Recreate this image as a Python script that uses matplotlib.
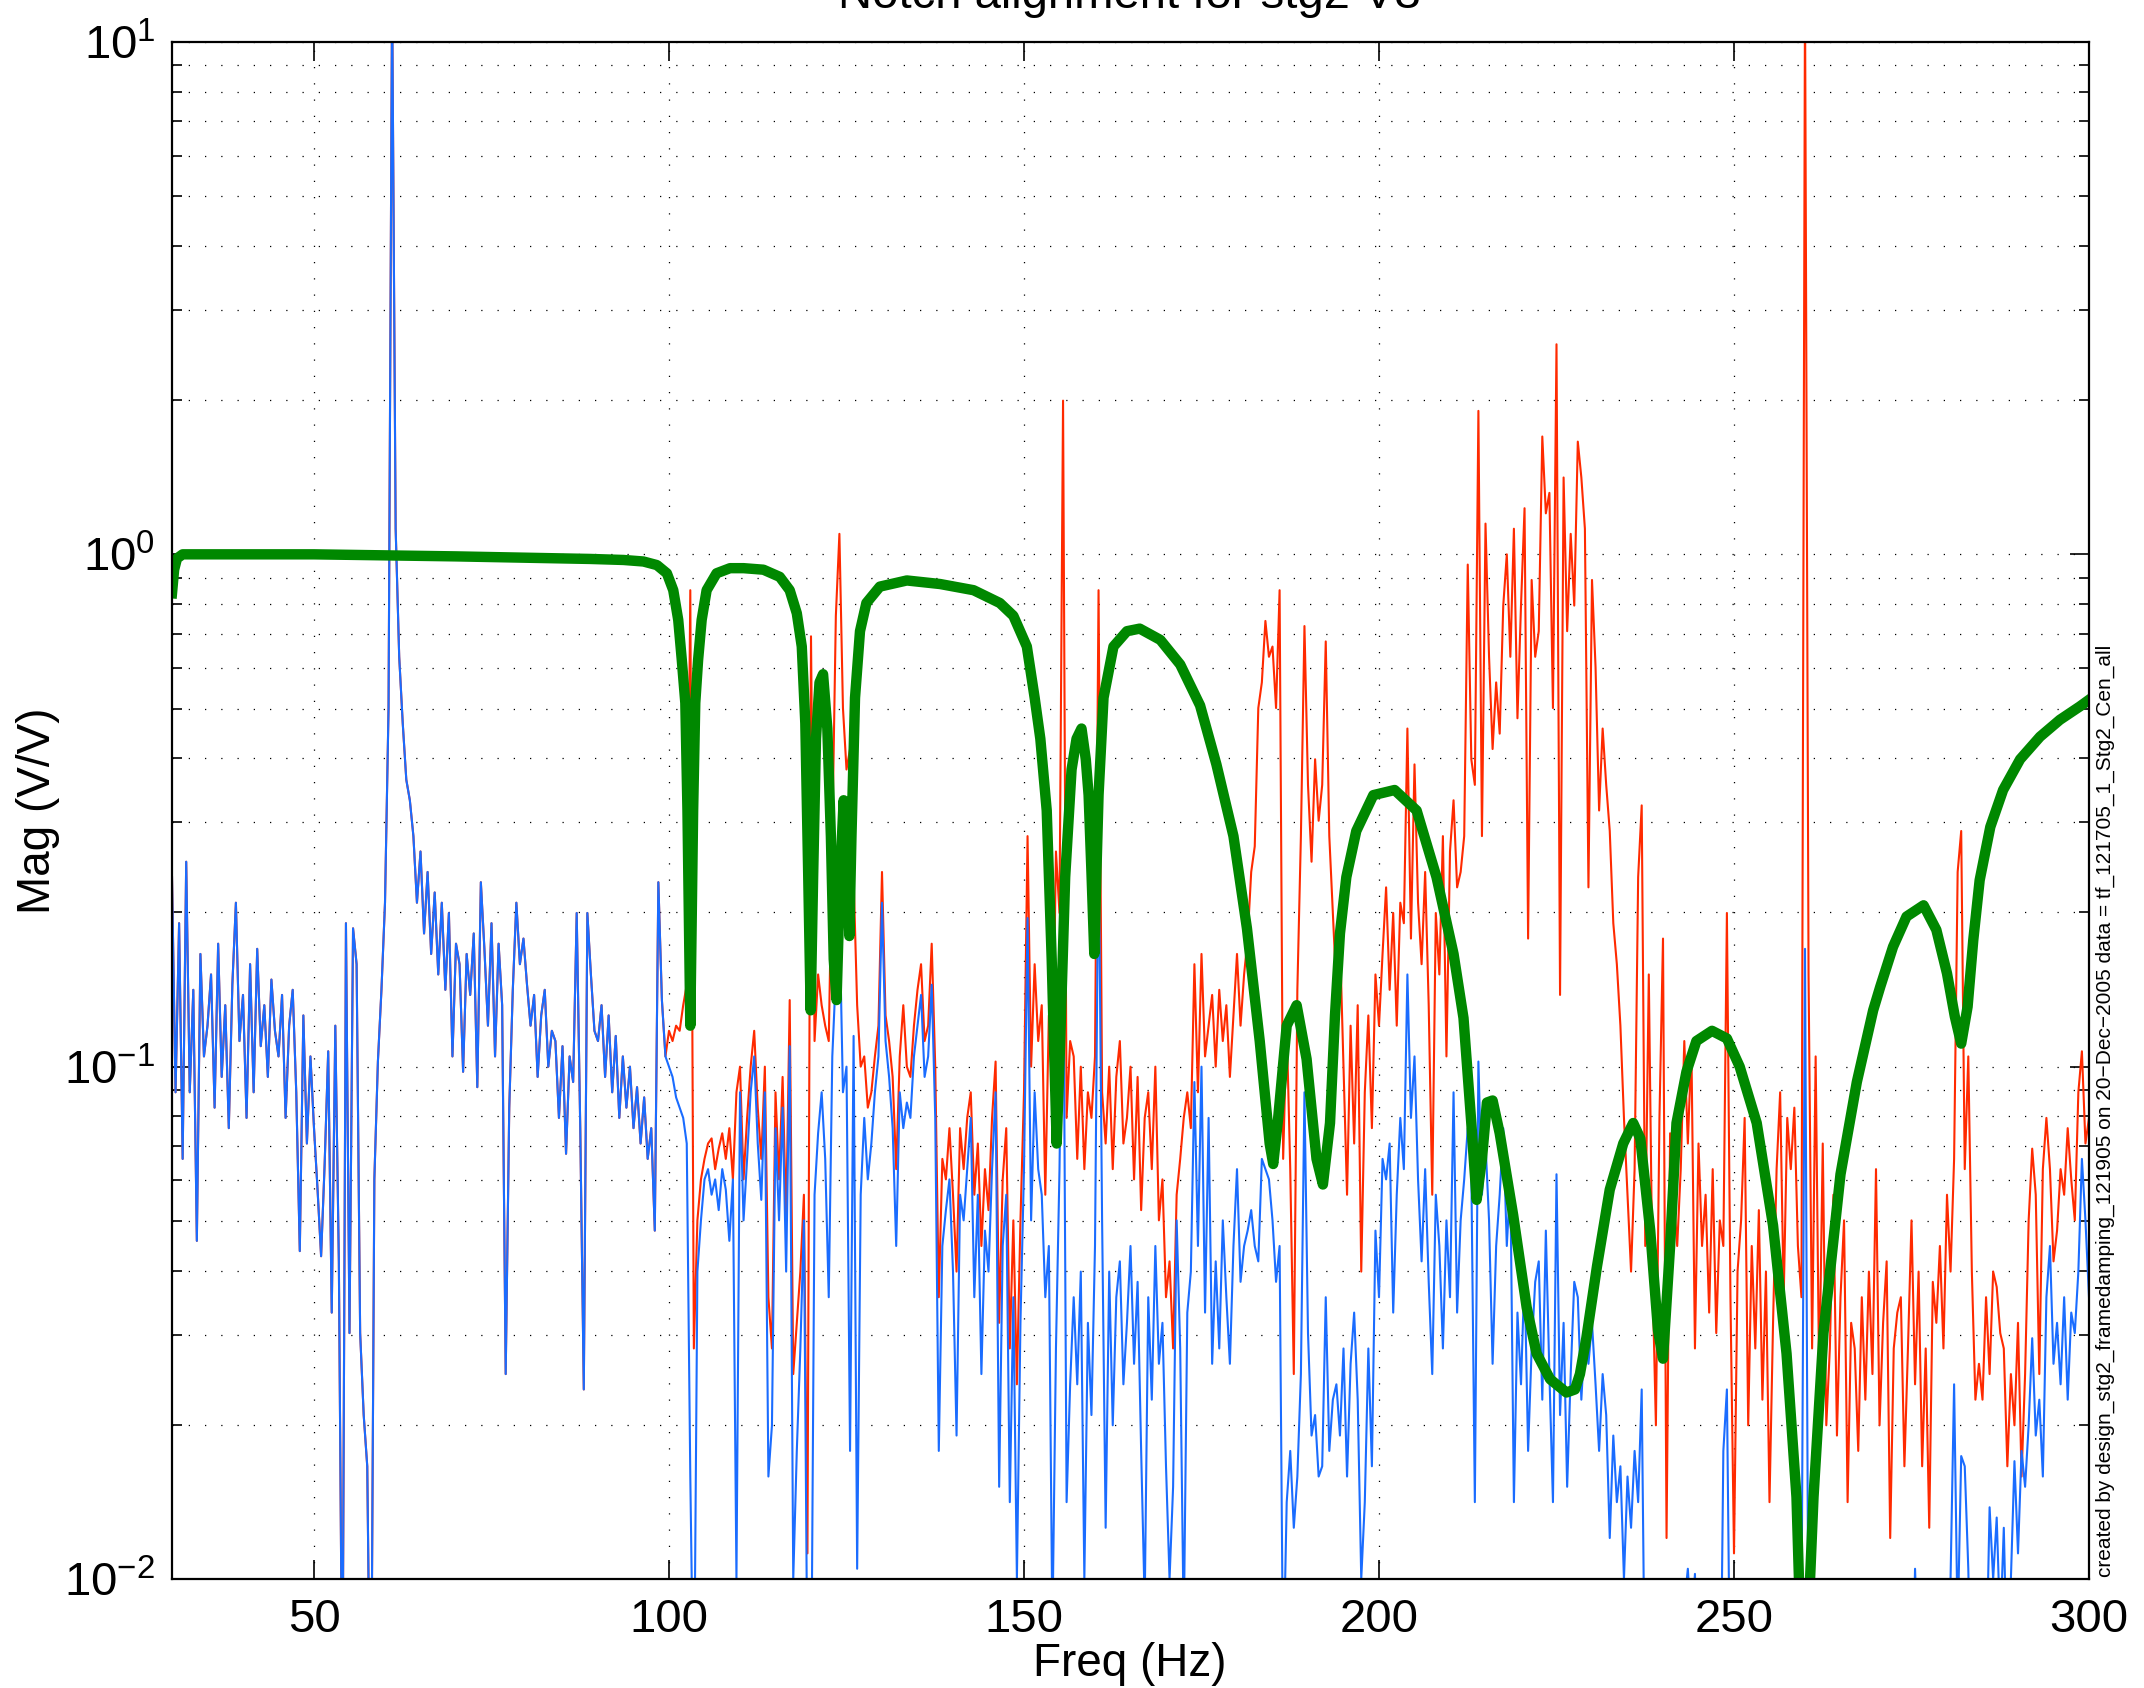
import numpy as np
import matplotlib
matplotlib.use('Agg')
import matplotlib.pyplot as plt
from matplotlib.ticker import NullLocator

plt.rcParams['font.family'] = ['Liberation Sans', 'DejaVu Sans']
plt.rcParams['mathtext.fontset'] = 'custom'
plt.rcParams['mathtext.rm'] = 'Liberation Sans'
plt.rcParams['mathtext.it'] = 'Liberation Sans:italic'
plt.rcParams['mathtext.bf'] = 'Liberation Sans:bold'

# measured traces, sampled every 0.5 Hz from 30 Hz, values are log10(mag)
freq_start = 30.0
freq_step = 0.5

blue_log = [
    -0.63, -1.05, -0.72, -1.18, -0.60, -1.05, -0.85, -1.34, -0.78, -0.98, -0.92, -0.82, -1.08, -0.76, -1.02, -0.88, -1.12, -0.84, -0.68, -0.95,  # 30
    -0.86, -1.10, -0.80, -1.05, -0.77, -0.96, -0.88, -1.02, -0.83, -0.93, -0.98, -0.86, -1.10, -0.92, -0.85, -1.05, -1.36, -0.90, -1.15, -0.98,  # 40
    -1.12, -1.24, -1.37, -1.19, -0.97, -1.48, -0.92, -1.38, -2.30, -0.72, -1.52, -0.73, -0.80, -1.52, -1.68, -1.78, -2.40, -1.22, -0.99, -0.85,  # 50
    -0.68, -0.30, 1.10, 0.05, -0.20, -0.33, -0.44, -0.48, -0.55, -0.68, -0.58, -0.74, -0.62, -0.78, -0.66, -0.82, -0.68, -0.85, -0.70, -0.98,  # 60
    -0.76, -0.80, -1.01, -0.78, -0.86, -0.74, -1.04, -0.64, -0.77, -0.92, -0.72, -0.98, -0.76, -0.88, -1.60, -1.08, -0.85, -0.68, -0.80, -0.75,  # 70
    -0.84, -0.92, -0.86, -1.02, -0.90, -0.85, -1.00, -0.93, -0.95, -1.10, -0.96, -1.17, -0.98, -1.03, -0.70, -1.12, -1.63, -0.70, -0.82, -0.93,  # 80
    -0.95, -0.88, -1.02, -0.90, -1.05, -0.94, -1.10, -0.98, -1.08, -1.00, -1.12, -1.04, -1.15, -1.06, -1.18, -1.12, -1.32, -0.64, -0.87, -0.98,  # 90
    -1.00, -1.02, -1.06, -1.08, -1.10, -1.15, -1.80, -2.30, -1.40, -1.30, -1.22, -1.20, -1.25, -1.22, -1.28, -1.20, -1.24, -1.34, -1.22, -2.00,  # 100
    -1.05, -1.30, -1.18, -1.05, -0.98, -1.15, -1.26, -1.05, -1.80, -1.70, -1.12, -1.30, -1.08, -1.40, -0.96, -2.00, -1.75, -1.55, -1.30, -2.20,  # 110
    -2.30, -1.25, -1.13, -1.05, -1.18, -1.45, -0.98, -0.82, -0.70, -1.05, -1.00, -1.75, -0.94, -1.98, -1.25, -1.10, -1.22, -1.15, -1.05, -0.98,  # 120
    -0.68, -0.95, -1.02, -1.12, -1.35, -1.05, -1.12, -1.07, -1.10, -0.98, -0.92, -0.86, -1.02, -0.98, -0.84, -1.10, -1.75, -1.35, -1.28, -1.22,  # 130
    -1.40, -1.72, -1.25, -1.30, -1.20, -1.10, -1.45, -1.25, -1.60, -1.32, -1.40, -1.20, -1.05, -1.82, -1.35, -1.25, -1.85, -1.45, -2.00, -1.50,  # 140
    -1.20, -0.71, -1.30, -1.05, -1.20, -1.25, -1.45, -1.35, -2.10, -1.55, -1.20, -0.66, -1.85, -1.62, -1.45, -1.62, -1.40, -2.00, -1.50, -1.68,  # 150
    -1.35, -0.54, -1.30, -1.90, -1.40, -1.70, -1.45, -1.38, -1.62, -1.50, -1.35, -1.58, -1.42, -1.75, -2.05, -1.45, -1.65, -1.35, -1.58, -1.50,  # 160
    -1.78, -2.00, -1.82, -1.30, -1.55, -2.10, -1.48, -1.40, -1.03, -1.35, -1.00, -1.48, -1.10, -1.58, -1.38, -1.55, -1.30, -1.45, -1.58, -1.35,  # 170
    -1.20, -1.42, -1.35, -1.32, -1.28, -1.35, -1.38, -1.18, -1.20, -1.22, -1.30, -1.42, -1.35, -2.20, -1.85, -1.75, -1.90, -1.80, -1.60, -1.05,  # 180
    -1.52, -1.72, -1.68, -1.80, -1.78, -1.45, -1.75, -1.65, -1.62, -1.72, -1.55, -1.80, -1.58, -1.48, -1.65, -2.00, -1.85, -1.55, -1.78, -1.32,  # 190
    -1.45, -1.18, -1.22, -1.15, -1.48, -1.25, -1.10, -1.20, -0.82, -1.10, -0.98, -1.22, -1.38, -1.20, -1.42, -1.60, -1.25, -1.35, -1.55, -1.30,  # 200
    -1.45, -1.05, -1.48, -1.30, -1.22, -1.12, -1.20, -1.85, -0.99, -1.25, -1.15, -1.30, -1.58, -1.35, -1.25, -1.12, -1.35, -1.22, -1.85, -1.48,  # 210
    -1.62, -1.40, -1.75, -1.55, -1.42, -1.38, -1.65, -1.32, -1.60, -1.85, -1.21, -1.68, -1.50, -1.82, -1.60, -1.42, -1.45, -1.65, -1.52, -1.58,  # 220
    -1.50, -1.62, -1.75, -1.60, -1.68, -1.92, -1.72, -1.85, -1.78, -2.00, -1.80, -1.90, -1.75, -1.85, -1.63, -2.30, -2.10, -2.40, -2.20, -2.50,  # 230
    -2.30, -2.20, -2.40, -2.30, -2.50, -2.20, -2.05, -1.98, -2.10, -1.99, -2.30, -2.40, -2.20, -2.50, -2.30, -2.20, -2.40, -1.75, -1.63, -2.30,  # 240
    -2.20, -2.40, -2.00, -2.30, -2.50, -2.30, -2.20, -2.40, -2.30, -2.50, -2.20, -2.30, -2.40, -2.20, -2.50, -2.30, -2.20, -2.40, -2.30, -2.10,  # 250
    -0.77, -2.20, -2.40, -2.30, -2.50, -2.20, -2.30, -2.40, -2.20, -2.50, -2.30, -2.20, -2.40, -2.30, -2.50, -2.20, -2.30, -2.40, -2.20, -2.30,  # 260
    -2.50, -2.30, -2.20, -2.40, -2.30, -2.50, -2.20, -2.30, -2.40, -2.20, -2.30, -1.98, -2.20, -2.40, -2.30, -2.50, -2.20, -2.30, -2.40, -2.30,  # 270
    -2.20, -2.00, -1.62, -2.10, -1.76, -1.78, -1.98, -2.30, -2.20, -2.40, -2.30, -2.20, -1.86, -2.00, -1.88, -2.10, -1.90, -2.20, -2.00, -1.77,  # 280
    -1.95, -1.75, -1.82, -1.70, -1.53, -1.72, -1.65, -1.80, -1.45, -1.35, -1.58, -1.50, -1.62, -1.45, -1.65, -1.48, -1.52, -1.40, -1.18, -1.30,  # 290
    -1.45,  # 300
]

# red trace from 100 Hz on; below 100 Hz it lies under the blue trace
red_log_100 = [
    -0.93, -0.95, -0.92, -0.93, -0.88, -0.84, -0.07, -1.55, -1.30, -1.22, -1.18, -1.15, -1.14, -1.20, -1.16, -1.13, -1.18, -1.12, -1.22, -1.05,  # 100
    -1.00, -1.22, -1.10, -1.00, -0.93, -1.08, -1.18, -1.00, -1.45, -1.55, -1.05, -1.22, -1.02, -1.30, -0.87, -1.60, -1.50, -1.40, -1.25, -1.95,  # 110
    -0.16, -0.95, -0.82, -0.88, -0.92, -0.95, -0.55, -0.12, 0.04, -0.30, -0.42, -0.38, -0.63, -0.88, -1.00, -0.98, -1.08, -1.05, -0.98, -0.92,  # 120
    -0.62, -0.90, -0.95, -1.02, -1.20, -0.98, -0.88, -1.00, -1.02, -0.92, -0.85, -0.80, -0.95, -0.92, -0.76, -1.00, -1.45, -1.18, -1.22, -1.12,  # 130
    -1.25, -1.40, -1.12, -1.20, -1.10, -1.05, -1.25, -1.15, -1.35, -1.20, -1.28, -1.10, -0.99, -1.50, -1.22, -1.12, -1.55, -1.30, -1.62, -1.30,  # 140
    -1.05, -0.55, -1.00, -0.80, -0.95, -0.88, -1.25, -0.90, -1.05, -0.58, -0.70, 0.30, -1.10, -0.95, -0.98, -1.18, -1.00, -1.20, -1.05, -1.10,  # 150
    -0.98, -0.07, -1.05, -1.15, -1.00, -1.20, -1.02, -0.95, -1.15, -1.10, -1.00, -1.22, -1.02, -1.28, -1.10, -1.05, -1.20, -1.00, -1.30, -1.22,  # 160
    -1.45, -1.38, -1.55, -1.25, -1.18, -1.10, -1.05, -1.12, -0.80, -1.05, -0.78, -0.98, -0.92, -0.86, -1.00, -0.85, -0.95, -0.88, -1.02, -0.90,  # 170
    -0.78, -0.92, -0.82, -0.75, -0.62, -0.57, -0.30, -0.25, -0.13, -0.20, -0.18, -0.30, -0.07, -1.18, -0.92, -1.20, -1.60, -0.85, -0.55, -0.14,  # 180
    -0.45, -0.60, -0.40, -0.52, -0.45, -0.17, -0.55, -0.70, -0.85, -0.75, -1.00, -1.25, -0.92, -1.15, -0.88, -1.40, -1.05, -0.90, -1.12, -0.82,  # 190
    -0.92, -0.78, -0.65, -0.85, -0.70, -0.92, -0.68, -0.72, -0.34, -0.75, -0.41, -0.68, -0.80, -0.62, -0.88, -1.25, -0.70, -0.82, -0.55, -0.98,  # 200
    -0.58, -0.48, -0.65, -0.62, -0.55, -0.02, -0.40, -0.45, 0.28, -0.55, 0.06, -0.20, -0.38, -0.25, -0.35, -0.10, 0.00, -0.20, 0.05, -0.32,  # 210
    -0.10, 0.09, -0.75, -0.05, -0.20, -0.15, 0.23, 0.08, 0.12, -0.30, 0.41, -0.86, 0.15, -0.15, 0.04, -0.10, 0.22, 0.15, 0.05, -0.65,  # 220
    -0.05, -0.22, -0.50, -0.34, -0.45, -0.54, -0.72, -0.80, -0.92, -1.10, -1.25, -1.40, -1.20, -0.63, -0.49, -1.35, -0.82, -1.40, -1.70, -1.10,  # 230
    -0.75, -1.92, -1.13, -1.25, -1.35, -1.20, -0.95, -1.15, -0.96, -1.55, -1.15, -1.35, -1.25, -1.48, -1.20, -1.52, -1.30, -1.35, -0.70, -1.45,  # 240
    -1.95, -1.40, -1.30, -1.10, -1.70, -1.35, -1.55, -1.28, -1.65, -1.40, -1.85, -1.50, -1.20, -1.05, -1.45, -1.10, -1.20, -1.08, -1.35, -1.45,  # 250
    1.10, -0.82, -1.55, -0.98, -1.62, -1.15, -1.70, -1.55, -1.25, -1.72, -1.45, -1.30, -1.85, -1.50, -1.55, -1.75, -1.45, -1.65, -1.40, -1.60,  # 260
    -1.20, -1.70, -1.50, -1.38, -1.92, -1.55, -1.48, -1.45, -1.78, -1.55, -1.30, -1.62, -1.40, -1.78, -1.55, -1.90, -1.42, -1.50, -1.35, -1.55,  # 270
    -1.25, -1.40, -1.18, -0.62, -0.54, -1.20, -0.98, -1.40, -1.65, -1.58, -1.65, -1.45, -1.60, -1.40, -1.43, -1.52, -1.55, -1.78, -1.60, -1.70,  # 280
    -1.50, -1.80, -1.60, -1.30, -1.16, -1.25, -1.60, -1.20, -1.10, -1.20, -1.38, -1.32, -1.20, -1.25, -1.12, -1.22, -1.30, -1.05, -0.97, -1.15,  # 290
    -1.10,  # 300
]

# notch filter design curve (Hz, log10 mag)
green_freq = [30.0, 30.3, 30.7, 31.5, 35, 50, 70, 88.9, 93.6, 96.4, 98.3, 99.7, 100.6, 101.3, 101.8, 102.3, 102.6,
              103.0, 103.4, 103.7, 104.1, 104.6, 105.3, 106.7, 108.6, 110.5, 113.3, 115.6, 117.0, 118.0, 118.7,
              119.2, 119.6, 119.95, 120.3, 120.7, 121.2, 121.7, 122.3, 122.8, 123.2, 123.6, 124.1, 124.6, 125.1,
              125.4, 125.7, 126.2, 126.9, 127.8, 129.7, 133.5, 138.2, 142.9, 146.6, 148.5, 150.4, 151.5, 152.3,
              153.2, 153.9, 154.6, 155.1, 155.8, 156.7, 157.4, 158.1, 158.7, 159.1, 159.5, 159.9, 160.2, 160.5,
              161.2, 162.6, 164.5, 166.3, 169.2, 172.0, 174.8, 177.1, 179.5, 181.4, 183.2, 184.6, 185.1, 185.8,
              187.0, 188.4, 189.8, 191.2, 192.1, 193.1, 193.8, 194.5, 195.4, 196.8, 199.2, 202.2, 205.3, 208.1,
              210.5, 211.9, 213.0, 213.75, 214.5, 215.2, 216.0, 217.0, 218.9, 220.8, 222.2, 224.1, 226.4, 227.6,
              228.3, 229.2, 230.7, 232.5, 234.4, 235.8, 236.8, 238.2, 239.3, 240.0, 241.0, 241.9, 243.3, 244.7,
              246.9, 249.0, 250.8, 253.2, 255.5, 257.4, 258.8, 259.8, 261.2, 262.6, 265.0, 267.3, 269.6, 270.6,
              272.4, 274.3, 276.7, 278.5, 280.0, 281.1, 282.0, 282.9, 283.7, 284.6, 286.1, 287.9, 290.3, 293.1,
              295.9, 298.7, 300.0]
green_log = [-0.076, -0.03, -0.008, 0.0, 0.0, 0.0, -0.004, -0.009, -0.011, -0.014, -0.021, -0.037, -0.07, -0.128, -0.206, -0.29, -0.5,
             -0.92, -0.5, -0.29, -0.206, -0.128, -0.07, -0.037, -0.027, -0.027, -0.03, -0.044, -0.07, -0.115, -0.18,
             -0.33, -0.62, -0.89, -0.63, -0.36, -0.25, -0.234, -0.34, -0.55, -0.79, -0.87, -0.63, -0.48, -0.60,
             -0.745, -0.55, -0.28, -0.15, -0.095, -0.063, -0.051, -0.058, -0.07, -0.095, -0.12, -0.18, -0.28, -0.36,
             -0.50, -0.79, -1.15, -0.95, -0.63, -0.42, -0.36, -0.34, -0.40, -0.47, -0.62, -0.78, -0.62, -0.47,
             -0.28, -0.18, -0.15, -0.145, -0.167, -0.215, -0.295, -0.41, -0.55, -0.73, -0.95, -1.15, -1.19, -1.10,
             -0.92, -0.88, -0.985, -1.18, -1.23, -1.11, -0.90, -0.74, -0.63, -0.54, -0.47, -0.46, -0.50, -0.63,
             -0.78, -0.905, -1.11, -1.26, -1.18, -1.07, -1.066, -1.13, -1.29, -1.47, -1.56, -1.61, -1.636, -1.63,
             -1.60, -1.53, -1.39, -1.24, -1.15, -1.11, -1.14, -1.32, -1.515, -1.57, -1.35, -1.11, -1.01, -0.95,
             -0.93, -0.945, -1.0, -1.11, -1.31, -1.56, -1.84, -2.3, -1.84, -1.52, -1.21, -1.03, -0.89, -0.844,
             -0.766, -0.707, -0.685, -0.733, -0.818, -0.902, -0.955, -0.883, -0.753, -0.636, -0.532, -0.46, -0.40, -0.356,
             -0.323, -0.297, -0.284]

freq = freq_start + freq_step * np.arange(len(blue_log))
blue = 10 ** np.array(blue_log)
n100 = int(round((100 - freq_start) / freq_step))
red = np.concatenate([blue[:n100], 10 ** np.array(red_log_100)])
green = 10 ** np.array(green_log)

fig = plt.figure(figsize=(21.44, 16.88), dpi=100)
ax = fig.add_axes([172 / 2144, 1 - 1579 / 1688, (2089 - 172) / 2144, (1579 - 42) / 1688])

ax.semilogy(freq, red, color='#ff2a00', lw=1.5)
ax.semilogy(freq, blue, color='#1a6cff', lw=1.5)
ax.semilogy(green_freq, green, color='#008800', lw=7.5, solid_joinstyle='round')

ax.set_xlim(30, 300)
ax.set_ylim(1e-2, 1e1)
ax.set_xticks(range(50, 301, 50))
ax.xaxis.set_minor_locator(NullLocator())

dots = (0, (1, 12))
ax.grid(True, which='major', axis='x', color='k', ls=dots, lw=0.9)
ax.grid(True, which='both', axis='y', color='k', ls=dots, lw=0.9)
ax.set_axisbelow(True)

ax.tick_params(which='both', direction='in', top=True, right=True, width=1.2, labelsize=34)
ax.tick_params(which='major', length=14)
ax.tick_params(which='minor', length=7)
ax.tick_params(axis='x', pad=14)
ax.tick_params(axis='y', pad=12)
for s in ax.spines.values():
    s.set_linewidth(1.6)

fig.text(0.527, 1 - 8 / 1688, 'Notch alignment for stg2 V3', ha='center', va='baseline', fontsize=34)
fig.text(0.527, 1 - 1664 / 1688, 'Freq (Hz)', ha='center', va='center', fontsize=33)
fig.text(38 / 2144, 1 - 811 / 1688, 'Mag (V/V)', ha='center', va='center', rotation=90, fontsize=33)
fig.text(2105 / 2144, 1 - 1577 / 1688,
         'created by design_stg2_framedamping_121905 on 20\u2212Dec\u22122005 data = tf_121705_1_Stg2_Cen_all',
         ha='center', va='bottom', rotation=90, fontsize=15)

fig.savefig('out.png', dpi=100)
